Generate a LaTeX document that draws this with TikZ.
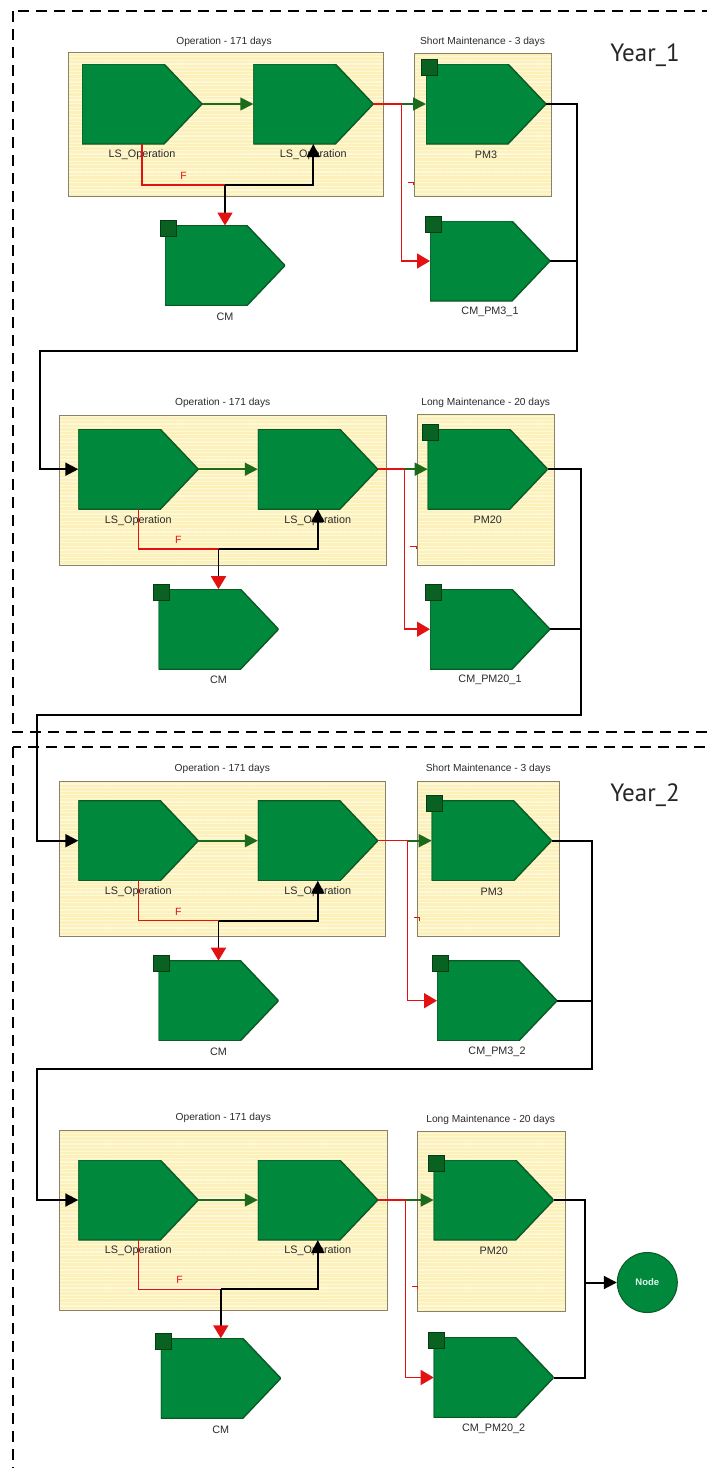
\documentclass[tikz,border=0pt]{standalone}
\usepackage{fontspec}
\setmainfont{Liberation Sans}
\newfontfamily\yearfont{PT Sans}
\usetikzlibrary{arrows.meta,fit,calc,patterns.meta}

\definecolor{stagegreen}{HTML}{00883D}
\definecolor{stageedge}{HTML}{0B5A24}
\definecolor{markgreen}{HTML}{0A6222}
\definecolor{markedge}{HTML}{063C14}
\definecolor{flowgreen}{HTML}{1C6A1C}
\definecolor{flowred}{HTML}{E31212}
\definecolor{boxfill}{HTML}{FCF1BA}
\definecolor{boxstripe}{HTML}{FFF9DC}
\definecolor{boxedge}{HTML}{8A8266}
\definecolor{labelgrey}{HTML}{2A2A2A}
\definecolor{nodetext}{HTML}{DDF7EE}

% a pentagon-shaped stage with its caption underneath
\newcommand\mkstage[4]{%
  \node[stage] (#1) at (#2,#3) {};
  \node[stagelabel] (#1-l) at ([yshift=-11pt]#1.south) {#4};}
% small status square on the top-left corner of a stage
\newcommand\mkmark[1]{\node[marksq] (#1-m) at ([shift={(3,3)}]#1.north west) {};}
% framed group with its title
\newcommand\mkgroup[8]{%
  \node[groupbox, fit={(#2,#3) (#4,#5)}] (#1) {};
  \node[grouptitle] (#1-t) at (#6,#7) {#8};}

\begin{document}
\begin{tikzpicture}[x=1pt,y=-1pt,
  stage/.style={rectangle, minimum width=120pt, minimum height=80pt, inner sep=0pt, outer sep=0pt,
    path picture={\filldraw[fill=stagegreen, draw=stageedge, line width=1.4pt]
      (path picture bounding box.north west) -- ([xshift=-38pt]path picture bounding box.north east)
      -- (path picture bounding box.east) -- ([xshift=-38pt]path picture bounding box.south east)
      -- (path picture bounding box.south west) -- cycle;}},
  stagelabel/.style={font=\fontsize{10.8}{12}\selectfont, text=labelgrey, inner sep=0pt},
  grouptitle/.style={font=\fontsize{10.2}{12}\selectfont, text=labelgrey, inner sep=0pt},
  marksq/.style={rectangle, minimum size=16pt, inner sep=0pt, fill=markgreen, draw=markedge, line width=0.8pt},
  groupbox/.style={draw=boxedge, line width=1pt, inner sep=0pt, outer sep=0pt,
    preaction={fill=boxfill},
    pattern={Lines[angle=0,distance=3.6pt,line width=1.3pt]}, pattern color=boxstripe},
  frame/.style={draw=black, line width=2.6pt, dash pattern=on 11pt off 7pt},
  greenflow/.style={draw=flowgreen, line width=1.6pt, -{Triangle[length=13pt,width=13pt]}},
  redflow/.style={draw=flowred, line width=1.5pt},
  redtip/.style={-{Triangle[length=13pt,width=15pt,color=flowred]}},
  blackflow/.style={draw=black, line width=1.8pt},
  blacktip/.style={-{Triangle[length=13pt,width=13pt]}},
  rowlink/.style={draw=black, line width=2pt},
  flowlabel/.style={font=\fontsize{10.5}{12}\selectfont, text=flowred, inner sep=0pt},
  tickmark/.style={draw=flowred, line width=1pt},
  yearlabel/.style={font=\yearfont\fontsize{25}{28}\selectfont, text=black!85, inner sep=0pt}
]
\useasboundingbox (0,0) rectangle (707,1468);
\clip (0,0) rectangle (707,1468);

% year frames
\draw[frame] (13,11) rectangle (740,732);
\draw[frame] (13,747) rectangle (740,1500);
\node[yearlabel] (y1) at (645,55) {Year\_1};
\node[yearlabel] (y2) at (645,795) {Year\_2};

% ---------------- Year 1, first half ----------------
\mkgroup{b1op}{68.3}{52.7}{383.3}{196.7}{224}{42}{Operation - 171 days}
\mkgroup{b1mt}{414.3}{53.3}{551.7}{196.7}{482.5}{42}{Short Maintenance - 3 days}
\mkstage{b1ls1}{142}{104}{LS\_Operation}
\mkstage{b1ls2}{313.3}{104}{LS\_Operation}
\mkstage{b1cm}{225}{265.5}{CM}\mkmark{b1cm}
\mkstage{b1pm}{486}{104}{PM3}\mkmark{b1pm}
\mkstage{b1cp}{490}{261}{CM\_PM3\_1}\mkmark{b1cp}
\coordinate (b1s) at (401.7,104);
\coordinate (b1j) at (225,185);
\coordinate (b1r) at (577.3,351);
\coordinate (b1l) at (40,351);

% ---------------- Year 1, second half ----------------
\mkgroup{b2op}{59.3}{415}{386.7}{565}{222.7}{403.3}{Operation - 171 days}
\mkgroup{b2mt}{417.7}{414}{554.3}{565.7}{485.7}{402.7}{Long Maintenance - 20 days}
\mkstage{b2ls1}{138.3}{469.2}{LS\_Operation}
\mkstage{b2ls2}{317.8}{469.2}{LS\_Operation}
\mkstage{b2cm}{218.5}{629.2}{CM}\mkmark{b2cm}
\mkstage{b2pm}{487.7}{469.2}{PM20}\mkmark{b2pm}
\mkstage{b2cp}{490}{629.2}{CM\_PM20\_1}\mkmark{b2cp}
\coordinate (b2s) at (404.3,469.2);
\coordinate (b2j) at (218.5,549);
\coordinate (b2r) at (580.7,714.5);
\coordinate (b2l) at (37,714.5);

% ---------------- Year 2, first half ----------------
\mkgroup{b3op}{59.3}{781}{385.7}{936}{222.3}{769.3}{Operation - 171 days}
\mkgroup{b3mt}{417.7}{781}{559.3}{936}{488.3}{769.3}{Short Maintenance - 3 days}
\mkstage{b3ls1}{138.3}{840.7}{LS\_Operation}
\mkstage{b3ls2}{317.8}{840.7}{LS\_Operation}
\mkstage{b3cm}{218.5}{1000.7}{CM}\mkmark{b3cm}
\mkstage{b3pm}{491.7}{840.7}{PM3}\mkmark{b3pm}
\mkstage{b3cp}{497}{1000.7}{CM\_PM3\_2}\mkmark{b3cp}
\coordinate (b3s) at (407.7,840.7);
\coordinate (b3j) at (218.5,920.7);
\coordinate (b3r) at (592.3,1069);
\coordinate (b3l) at (37.3,1069);

% ---------------- Year 2, second half ----------------
\mkgroup{b4op}{59.3}{1130}{387.7}{1310.7}{223.3}{1118.3}{Operation - 171 days}
\mkgroup{b4mt}{417.7}{1131.7}{565}{1311.7}{490.7}{1120}{Long Maintenance - 20 days}
\mkstage{b4ls1}{138.3}{1200}{LS\_Operation}
\mkstage{b4ls2}{317.8}{1200}{LS\_Operation}
\mkstage{b4cm}{220.8}{1378.3}{CM}\mkmark{b4cm}
\mkstage{b4pm}{493.7}{1200}{PM20}\mkmark{b4pm}
\mkstage{b4cp}{493.7}{1377.5}{CM\_PM20\_2}\mkmark{b4cp}
\coordinate (b4s) at (405.7,1200);
\coordinate (b4j) at (220.8,1289.3);
\coordinate (b4r) at (585,1282.5);
\node[circle, minimum size=60pt, inner sep=0pt, fill=stagegreen, draw=stageedge, line width=1pt,
      font=\bfseries\fontsize{9.5}{10}\selectfont, text=nodetext] (endnode) at (647.3,1282.5) {Node};

% ---------------- connectors inside each half-year ----------------
\foreach \b in {b1,b2,b3,b4}{
  \draw[greenflow] (\b ls1.east) -- (\b ls2.west);
  \draw[redflow] (\b ls2.east) -- (\b s);
  \draw[greenflow] (\b s) -- (\b pm.west);
  \draw[redflow, redtip] (\b s) |- (\b cp.west);
  \draw[redflow] (\b ls1.south) |- (\b j);
  \draw[blackflow, blacktip] (\b j) -| (\b ls2.south);
  \draw[blackflow, redtip] (\b j) -- (\b cm.north);
  \node[flowlabel] (\b f) at ($(\b ls1.south |- \b j)!0.5!(\b j)+(0,-9)$) {F};
  \draw[tickmark] ($(\b s |- \b j)+(6,-3)$) -- ++(6,0) -- ++(0,3);
}

% ---------------- links between the half-years ----------------
\draw[rowlink, blacktip] (b1pm.east) -| (b1r) -- (b1l) |- (b2ls1.west);
\draw[rowlink] (b1cp.east) -- (b1cp.east -| b1r);
\draw[rowlink, blacktip] (b2pm.east) -| (b2r) -- (b2l) |- (b3ls1.west);
\draw[rowlink] (b2cp.east) -- (b2cp.east -| b2r);
\draw[rowlink, blacktip] (b3pm.east) -| (b3r) -- (b3l) |- (b4ls1.west);
\draw[rowlink] (b3cp.east) -- (b3cp.east -| b3r);
\draw[rowlink] (b4pm.east) -| (b4r) |- (b4cp.east);
\draw[rowlink, blacktip] (b4r) -- (endnode.west);
\end{tikzpicture}
\end{document}
